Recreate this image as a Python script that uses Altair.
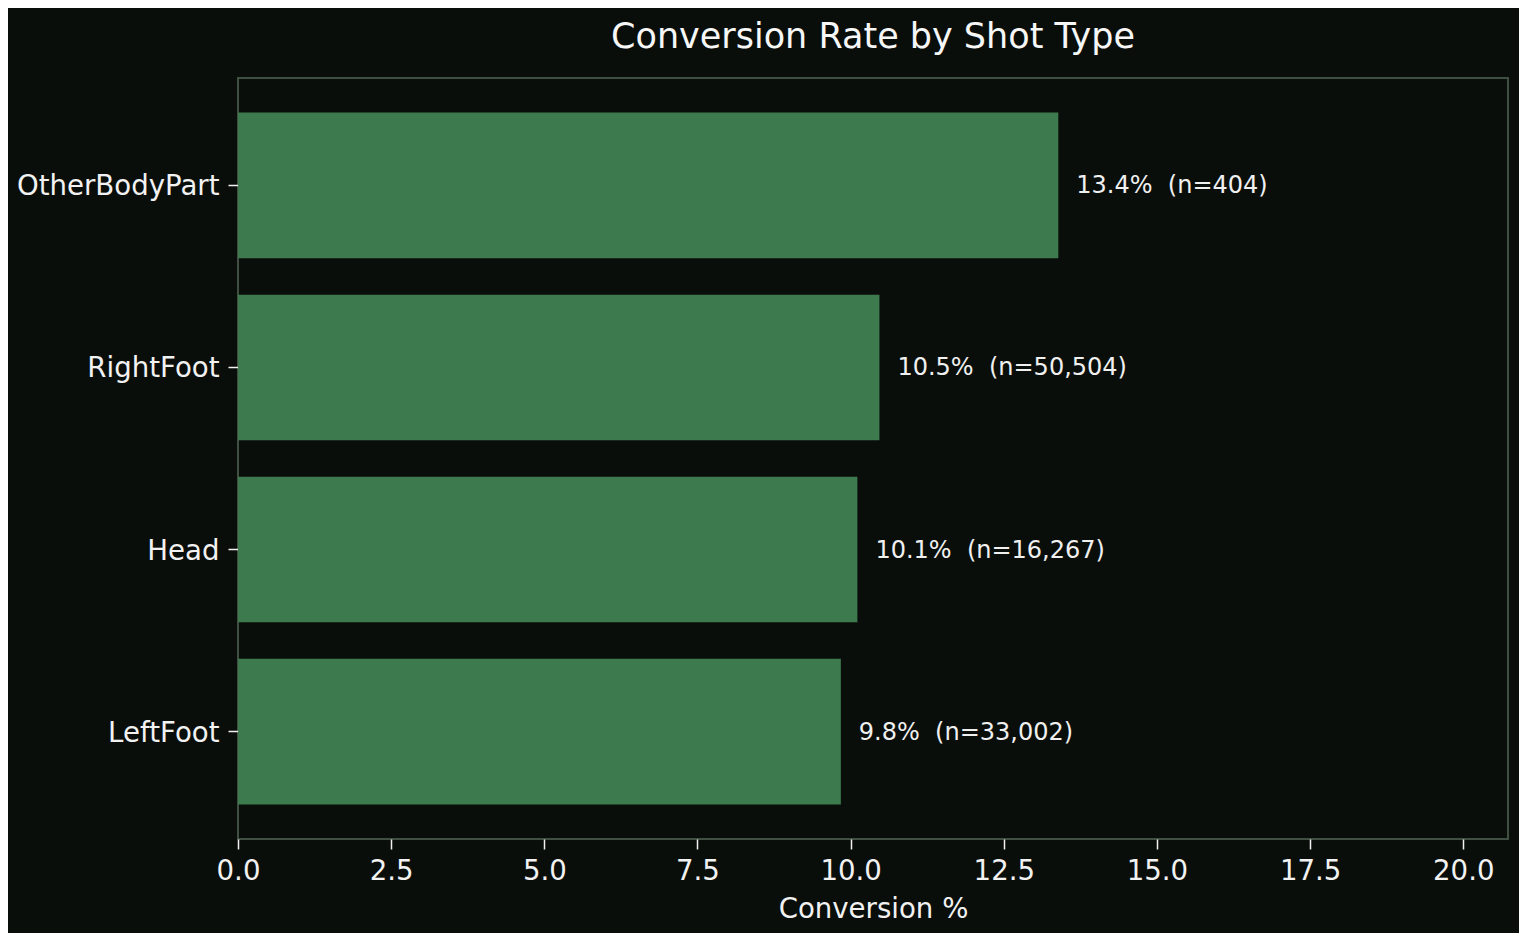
import altair as alt
import pandas as pd

shot_types = ["OtherBodyPart", "RightFoot", "Head", "LeftFoot"]
conversion = [13.39, 10.47, 10.11, 9.84]
shots = [404, 50504, 16267, 33002]
label_pct = ["13.4%", "10.5%", "10.1%", "9.8%"]
x_ticks = [0.0, 2.5, 5.0, 7.5, 10.0, 12.5, 15.0, 17.5, 20.0]

labels = [f"{p}\u00a0\u00a0(n={n:,})" for p, n in zip(label_pct, shots)]
df = pd.DataFrame({"type": shot_types, "rate": conversion, "label": labels})

BG = "#0a0e0b"
FONT = "DejaVu Sans"

y_enc = alt.Y(
    "type:N",
    sort=shot_types,
    title=None,
    scale=alt.Scale(paddingInner=0.2, paddingOuter=0.19),
    axis=alt.Axis(
        labelFontSize=27.6,
        labelColor="#f2f2f2",
        labelFont=FONT,
        labelLimit=0,
        labelOffset=2,
        tickColor="#f2f2f2",
        tickSize=10,
        tickWidth=1.5,
        labelPadding=9,
        domain=False,
        grid=False,
    ),
)

x_enc = alt.X(
    "rate:Q",
    title="Conversion %",
    scale=alt.Scale(domain=[0, 20.73], nice=False, zero=True),
    axis=alt.Axis(
        values=x_ticks,
        format=".1f",
        labelFontSize=27.6,
        labelColor="#f2f2f2",
        labelFont=FONT,
        titleFontSize=27.6,
        titleFont=FONT,
        titleColor="#f2f2f2",
        titleFontWeight="normal",
        titlePadding=11,
        tickColor="#f2f2f2",
        tickSize=10,
        tickWidth=1.5,
        labelPadding=8,
        domain=False,
        grid=False,
        labelFlush=False,
    ),
)

bars = alt.Chart(df).mark_bar(color="#3d7b4f").encode(x=x_enc, y=y_enc)

text = alt.Chart(df).mark_text(
    align="left", baseline="middle", dx=18, dy=1, fontSize=24, font=FONT, color="#f0f0f0"
).encode(
    x=alt.X("rate:Q"),
    y=alt.Y("type:N", sort=shot_types),
    text="label:N",
)

chart = (
    alt.layer(bars, text)
    .properties(
        width=1270,
        height=761,
        background=BG,
        autosize=alt.AutoSizeParams(type="none"),
        padding={"left": 230, "top": 70, "right": 11, "bottom": 94},
        title=alt.TitleParams(
            "Conversion Rate by Shot Type",
            fontSize=35,
            font=FONT,
            color="#f7f7f7",
            fontWeight="normal",
            anchor="middle",
            offset=23,
        ),
    )
    .configure_view(stroke="#3f4f42", strokeWidth=2, fill=BG)
)

chart.save("out.html", embed_options={"renderer": "svg", "actions": False})
